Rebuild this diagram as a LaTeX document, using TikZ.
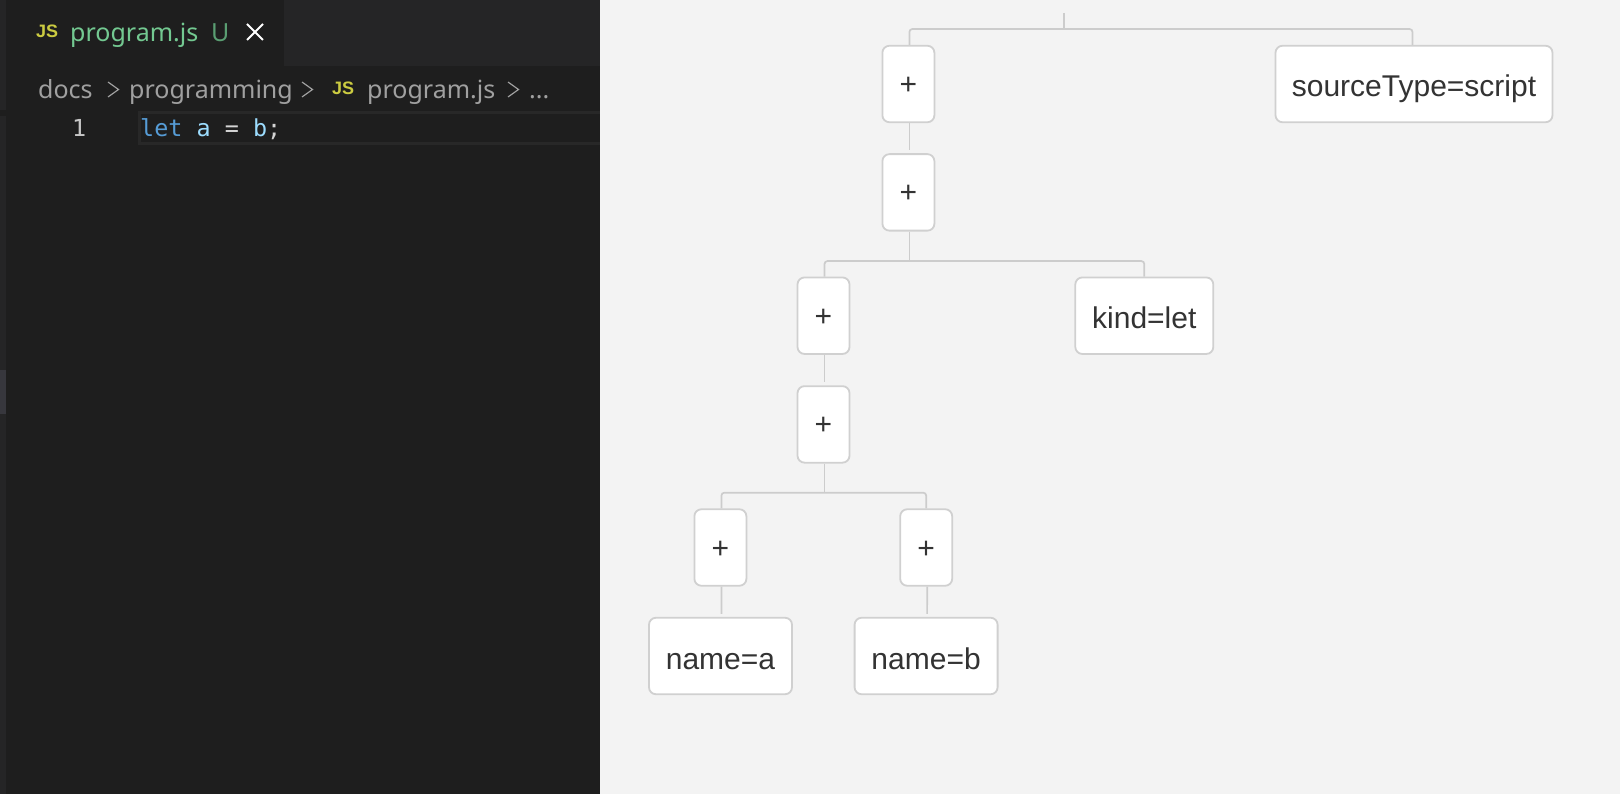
\documentclass[tikz,border=0pt]{standalone}
\usepackage{fontspec}
\setmainfont{Liberation Sans}
\newfontfamily\uifont{Noto Sans}
\newfontfamily\codefont{DejaVu Sans Mono}
\definecolor{editorbg}{HTML}{1E1E1E}
\definecolor{barbg}{HTML}{252526}
\definecolor{railmark}{HTML}{37373D}
\definecolor{linebox}{HTML}{282828}
\definecolor{panelbg}{HTML}{F3F3F3}
\definecolor{boxline}{HTML}{D0D0D0}
\definecolor{linkline}{HTML}{CCCCCC}
\definecolor{boxtext}{HTML}{333333}
\definecolor{jsyellow}{HTML}{CBCB41}
\definecolor{tabgreen}{HTML}{73C991}
\definecolor{tabu}{HTML}{5A9E72}
\definecolor{crumbgray}{HTML}{A0A0A0}
\definecolor{lineno}{HTML}{C6C6C6}
\definecolor{kwblue}{HTML}{569CD6}
\definecolor{varblue}{HTML}{9CDCFE}
\definecolor{opgray}{HTML}{D4D4D4}
\tikzset{
  treebox/.style={draw=boxline,fill=white,line width=1.8pt,rounded corners=7pt,
    inner sep=0pt,minimum height=76.5pt,text height=26pt,text depth=0pt,
    text=boxtext,font=\fontsize{30}{36}\selectfont},
  plusbox/.style={treebox,minimum width=52pt,text height=21pt},
  link/.style={draw=linkline,line width=1.7pt,rounded corners=3pt},
  uitext/.style={anchor=base west,inner sep=0pt,font=\uifont\fontsize{25}{30}\selectfont},
  jstext/.style={anchor=base west,inner sep=0pt,text=jsyellow,font=\bfseries\fontsize{18}{22}\selectfont},
  codetext/.style={anchor=base west,inner sep=0pt,font=\codefont\fontsize{23.4}{28}\selectfont},
  chevron/.style={draw=crumbgray,line width=1.2pt}
}
\begin{document}
\begin{tikzpicture}[x=1pt,y=-1pt]
  \useasboundingbox (0,0) rectangle (1620,794);
  % editor side
  \fill[editorbg] (0,0) rectangle (600,794);
  \fill[barbg] (284,0) rectangle (600,66);
  \fill[barbg] (0,0) rectangle (6,794);
  \fill[editorbg] (0,110) rectangle (6,116);
  \fill[railmark] (0,370) rectangle (6,414);
  \filldraw[fill=editorbg,draw=linebox,line width=3pt] (139,113) rectangle (603,144);
  % tab
  \node[jstext] (tabjs) at (36,38) {JS};
  \node[uitext,text=tabgreen] (tabname) at (70,41.5) {program.js};
  \node[uitext,text=tabu] (tabu) at (211,41.5) {U};
  \draw[white,line width=1.8pt] (247,24) -- (263,40) (263,24) -- (247,40);
  % breadcrumb
  \node[uitext,text=crumbgray] (crumbdocs) at (38,98.3) {docs};
  \node[uitext,text=crumbgray] (crumbprog) at (129,98.3) {programming};
  \node[jstext] (crumbjs) at (332,95) {JS};
  \node[uitext,text=crumbgray] (crumbfile) at (367,98.3) {program.js};
  \node[uitext,text=crumbgray] (crumbdots) at (529,98.3) {...};
  \foreach \cx in {108,302,508}{% one per separator
    \draw[chevron] (\cx,82) -- (\cx+10.5,89.5) -- (\cx,97);
  }
  % code line
  \node[codetext,text=lineno] (lineone) at (72,137) {1};
  \node[codetext,text=kwblue] (kwlet) at (140,137) {let};
  \node[codetext,text=varblue] (vara) at (196.4,137) {a};
  \node[codetext,text=opgray] (opeq) at (224.6,137) {=};
  \node[codetext,text=varblue] (varb) at (252.8,137) {b};
  \node[codetext,text=opgray] (semi) at (266.9,137) {;};
  % tree side
  \fill[panelbg] (600,0) rectangle (1620,794);
  \coordinate (rootstub) at (1064,13);
  \coordinate (rootfork) at (1064,29);
  \foreach \nm/\cx/\cy in {plusA/908.4/84,plusB/908.4/192.4,plusC/823.5/315.7,
                           plusD/823.5/424.4,plusE/720.4/547.5,plusF/926.2/547.5}{
    \node[plusbox] (\nm) at (\cx,\cy) {+};
  }
  \node[treebox,minimum width=277pt] (source) at (1414,84) {sourceType=script};
  \node[treebox,minimum width=138pt] (kind) at (1144.3,315.7) {kind=let};
  \node[treebox,minimum width=143pt] (namea) at (720.5,656) {name=a};
  \node[treebox,minimum width=143pt] (nameb) at (926.1,656) {name=b};
  % forks
  \draw[link] (rootstub) -- (rootfork);
  \draw[link] ([xshift=1pt]plusA.north) |- (rootfork) -| ([xshift=-1.5pt]source.north);
  \draw[link] ([xshift=1pt]plusB.south) -- ++(0,29.5) coordinate (forkB);
  \draw[link] ([xshift=1pt]plusC.north) |- (forkB) -| (kind.north);
  \draw[link] ([xshift=1pt]plusD.south) -- ++(0,29.1) coordinate (forkD);
  \draw[link] ([xshift=1pt]plusE.north) |- (forkD) -| (plusF.north);
  % straight links, they stop short of the lower box
  \draw[link,shorten >=3pt] ([xshift=1pt]plusA.south) -- ([xshift=1pt]plusB.north);
  \draw[link,shorten >=3pt] ([xshift=1pt]plusC.south) -- ([xshift=1pt]plusD.north);
  \draw[link,shorten >=3pt] ([xshift=1pt]plusE.south) -- ([xshift=1pt]namea.north);
  \draw[link,shorten >=3pt] ([xshift=1pt]plusF.south) -- ([xshift=1pt]nameb.north);
\end{tikzpicture}
\end{document}
